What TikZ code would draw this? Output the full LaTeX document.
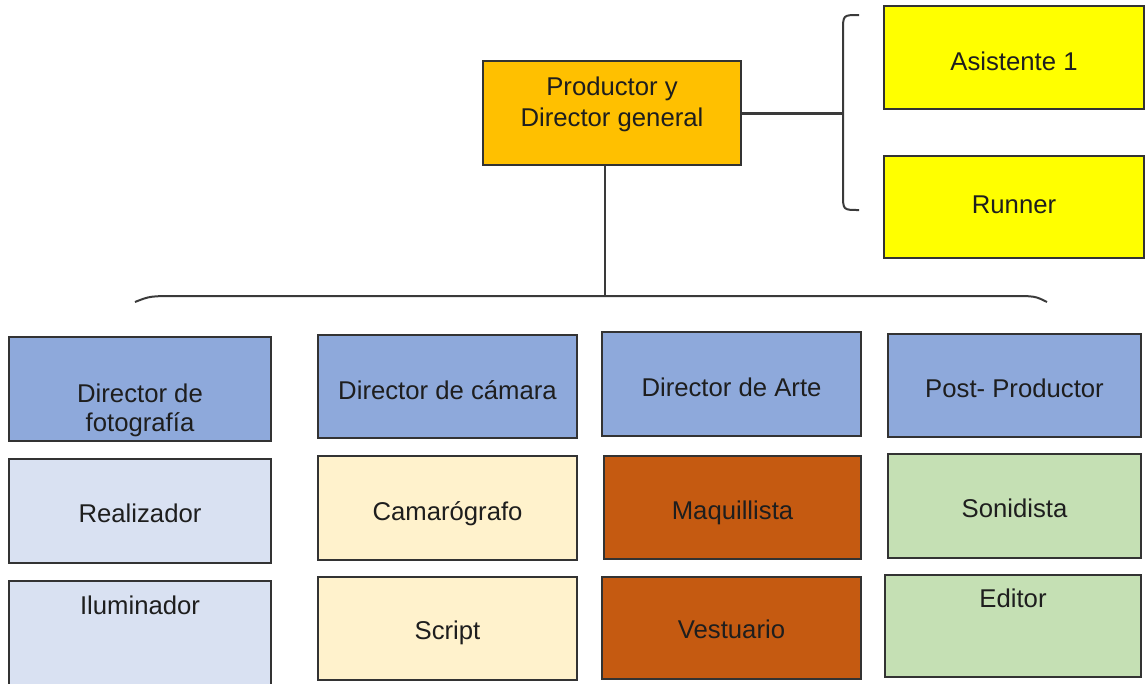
\documentclass[tikz,border=0pt]{standalone}
\usepackage{fontspec}
\setmainfont{Liberation Sans}
\definecolor{cProd}{HTML}{FFC000}
\definecolor{cYel}{HTML}{FFFF00}
\definecolor{cBlue}{HTML}{8EA9DB}
\definecolor{cLBlue}{HTML}{D9E1F2}
\definecolor{cLYel}{HTML}{FFF2CC}
\definecolor{cRust}{HTML}{C55A11}
\definecolor{cGreen}{HTML}{C5E0B4}
\definecolor{cEdge}{HTML}{333333}
\definecolor{cLine}{HTML}{3A3A3A}
\definecolor{cText}{HTML}{1E1E1E}
\tikzset{
  rbox/.style={draw=cEdge, line width=1.5pt, inner sep=0pt},
  lbl/.style={font=\fontsize{25.7}{31}\selectfont, text=cText, anchor=base, align=center, inner sep=0pt},
  conn/.style={draw=cLine, line width=2pt},
}
\begin{document}
\begin{tikzpicture}[x=1pt,y=-1pt]
\useasboundingbox (0,0) rectangle (1147,683);
% boxes
\node[rbox, fill=cProd, minimum width=258pt, minimum height=104pt] (prod) at (612,113) {};
\node[rbox, fill=cYel, minimum width=260pt, minimum height=103pt] (asis) at (1014,57.5) {};
\node[rbox, fill=cYel, minimum width=260pt, minimum height=102pt] (run) at (1014,207) {};
% row 1
\node[rbox, fill=cBlue, minimum width=262pt, minimum height=104pt] (dfo) at (140,389) {};
\node[rbox, fill=cBlue, minimum width=259pt, minimum height=103pt] (dca) at (447.5,386.5) {};
\node[rbox, fill=cBlue, minimum width=259pt, minimum height=104pt] (dar) at (731.5,384) {};
\node[rbox, fill=cBlue, minimum width=253pt, minimum height=103pt] (pos) at (1014.5,385.5) {};
% row 2
\node[rbox, fill=cLBlue, minimum width=262pt, minimum height=104pt] (rea) at (140,511) {};
\node[rbox, fill=cLYel, minimum width=259pt, minimum height=104pt] (cam) at (447.5,508) {};
\node[rbox, fill=cRust, minimum width=257pt, minimum height=103pt] (maq) at (732.5,507.5) {};
\node[rbox, fill=cGreen, minimum width=253pt, minimum height=104pt] (son) at (1014.5,506) {};
% row 3
\node[rbox, fill=cLBlue, minimum width=262pt, minimum height=110pt] (ilu) at (140,636) {};
\node[rbox, fill=cLYel, minimum width=259pt, minimum height=103pt] (scr) at (447.5,628.5) {};
\node[rbox, fill=cRust, minimum width=259pt, minimum height=102pt] (ves) at (731.5,628) {};
\node[rbox, fill=cGreen, minimum width=256pt, minimum height=102pt] (edi) at (1013,626) {};
% texts
\node[lbl] (tprod) at (612,126) {Productor y\\Director general};
\node[lbl] (tasis) at (1014,70) {Asistente 1};
\node[lbl] (trun) at (1014,213) {Runner};
\node[lbl, font=\fontsize{25.7}{29}\selectfont] (tdfo) at (140,431) {Director de\\fotografía};
\node[lbl] (tdca) at (447.5,399) {Director de cámara};
\node[lbl] (tdar) at (731.5,396) {Director de Arte};
\node[lbl] (tpos) at (1014.5,397) {Post- Productor};
\node[lbl] (trea) at (140,522) {Realizador};
\node[lbl] (tcam) at (447.5,520) {Camarógrafo};
\node[lbl] (tmaq) at (732.5,519) {Maquillista};
\node[lbl] (tson) at (1014.5,517) {Sonidista};
\node[lbl] (tilu) at (140,614) {Iluminador};
\node[lbl] (tscr) at (447.5,639) {Script};
\node[lbl] (tves) at (731.5,638) {Vestuario};
\node[lbl] (tedi) at (1013,607) {Editor};
% connectors
\coordinate (rb) at (843,113);
\coordinate (bb) at (605,296);
\coordinate (rbT) at (859,15);
\coordinate (rbB) at (859,210);
\coordinate (bbL) at (135,302);
\coordinate (bbR) at (1047,302);
\draw[conn, line width=3pt] (prod.east) -- (rb);
\draw[conn] (rbT) .. controls (843,15) .. (843,31) -- (843,194) .. controls (843,210) .. (rbB);
\draw[conn] (bb |- prod.south) -- (bb);
\draw[conn] (bbL) .. controls (150,296) .. (180,296) -- (1010,296) .. controls (1035,296) .. (bbR);
\end{tikzpicture}
\end{document}
